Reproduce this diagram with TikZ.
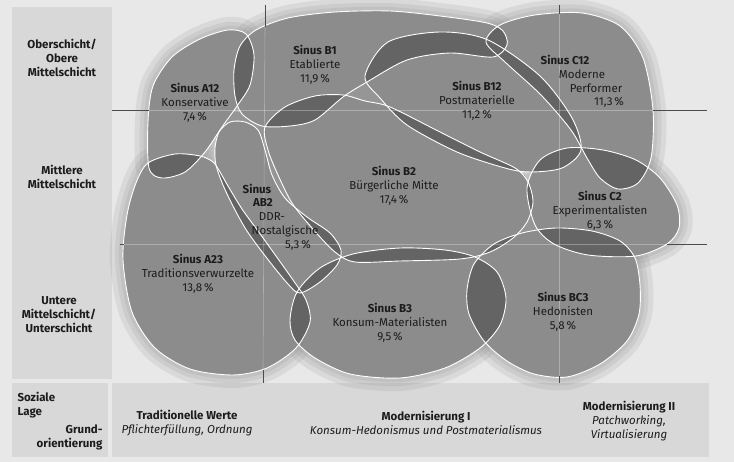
\documentclass[tikz,border=0pt]{standalone}
\usepackage{fontspec}
\setmainfont{Fira Sans}
\usetikzlibrary{positioning}

\definecolor{pagegrey}{RGB}{232,232,232}
\definecolor{panelgrey}{RGB}{216,216,216}
\definecolor{milieugrey}{RGB}{140,140,140}
\definecolor{overlapgrey}{RGB}{100,100,100}
\definecolor{gapgrey}{RGB}{150,150,150}
\definecolor{inkgrey}{RGB}{28,28,28}

% outlines of the milieus (pixel units, y downwards)
\newcommand{\konservative}{plot[smooth cycle] coordinates {(148,122) (153,86) (172,57) (200,39) (228,30) (246,34) (254,55) (250,85) (237,106) (222,127) (205,152) (185,172) (162,178) (149,168)}}
\newcommand{\etablierte}{plot[smooth cycle] coordinates {(234,70) (235,96) (242,114) (262,126) (290,126) (315,120) (343,97) (367,82) (407,60) (450,53) (493,57) (507,45) (503,31) (487,23) (440,16) (390,11) (335,12) (288,18) (256,30) (240,46)}}
\newcommand{\postmat}{plot[smooth cycle] coordinates {(365,76) (388,42) (440,32) (488,40) (540,76) (572,118) (581,150) (562,168) (530,172) (505,168) (457,152) (407,125) (380,98)}}
\newcommand{\performer}{plot[smooth cycle] coordinates {(486,42) (500,25) (535,15) (582,13) (620,26) (643,58) (653,110) (651,158) (638,183) (618,189) (600,178) (587,158) (571,130) (541,95) (505,62)}}
\newcommand{\buergmitte}{plot[smooth cycle] coordinates {(265,127) (285,107) (315,96) (343,95) (365,101) (390,107) (440,132) (480,152) (515,168) (528,182) (533,202) (527,222) (513,238) (490,252) (460,259) (400,261) (355,262) (335,252) (312,228) (292,203) (278,175) (268,150)}}
\newcommand{\experiment}{plot[smooth cycle] coordinates {(527,188) (540,160) (567,148) (603,150) (636,160) (660,178) (677,205) (679,228) (667,244) (636,256) (588,255) (554,244) (535,225)}}
\newcommand{\ddrnost}{plot[smooth cycle] coordinates {(230,122) (245,122) (258,130) (265,150) (272,175) (285,198) (307,217) (330,233) (341,250) (337,265) (320,282) (300,293) (288,284) (266,257) (247,231) (234,208) (223,185) (216,165) (215,148) (219,132)}}
\newcommand{\tradition}{plot[smooth cycle] coordinates {(148,163) (175,154) (200,156) (213,162) (220,172) (228,186) (242,209) (258,231) (276,256) (293,280) (306,300) (310,322) (296,348) (267,368) (233,375) (190,369) (155,348) (132,312) (123,260) (127,215) (136,183)}}
\newcommand{\konsummat}{plot[smooth cycle] coordinates {(290,320) (297,292) (320,268) (353,254) (400,248) (445,250) (475,257) (497,272) (506,298) (500,325) (480,348) (445,368) (400,378) (350,374) (315,358) (295,340)}}
\newcommand{\hedonisten}{plot[smooth cycle] coordinates {(467,290) (474,264) (494,244) (522,233) (556,228) (592,231) (620,241) (635,258) (640,285) (639,314) (627,341) (600,364) (567,377) (534,374) (507,361) (484,341) (469,314)}}

\tikzset{
  milieu/.style={fill=milieugrey},
  overlap/.style={fill=overlapgrey},
  rand/.style={draw=white, line width=0.9pt},
  halo/.style={draw=milieugrey, opacity=0.16, line cap=round, line join=round},
  raster/.style={draw=black!70, line width=0.6pt},
  rasterhell/.style={draw=white, opacity=0.3, line width=0.6pt},
  schrift/.style={font=\fontsize{11.5}{14}\selectfont, text=inkgrey, align=center},
  titel/.style={schrift, font=\fontsize{11.5}{14}\selectfont\bfseries},
}

\begin{document}
\begin{tikzpicture}[x=1pt, y=-1pt]
  \useasboundingbox (0,0) rectangle (734,462);
  \fill[pagegrey] (0,0) rectangle (734,462);

  % panels for the axes
  \fill[panelgrey] (12,7) rectangle (112,379);
  \fill[panelgrey] (12,383) rectangle (108,457);
  \fill[panelgrey] (112,383) rectangle (709,457);

  % soft grey edge round the milieus
  \foreach \m in {\konservative,\etablierte,\performer,\experiment,
                  \tradition,\konsummat,\hedonisten}
    \foreach \w in {26,16,8}
      \draw[halo, line width=\w pt] \m;

  % gaps between the milieus
  \fill[gapgrey] (228,112) -- (262,112) -- (343,92) -- (368,82) -- (392,108)
    -- (470,150) -- (525,175) -- (540,235) -- (480,262) -- (340,265)
    -- (300,292) -- (258,240) -- (218,160) -- (216,130) -- cycle;

  \foreach \m in {\konservative,\etablierte,\postmat,\performer,\buergmitte,
                  \experiment,\ddrnost,\tradition,\konsummat,\hedonisten}
    \fill[milieu] \m;

  %% overlaps are darker
  \foreach \p/\q in {\konservative/\etablierte, \konservative/\tradition,
      \konservative/\ddrnost, \etablierte/\postmat, \etablierte/\performer,
      \etablierte/\buergmitte, \etablierte/\ddrnost, \postmat/\performer,
      \postmat/\buergmitte, \postmat/\experiment, \performer/\experiment,
      \buergmitte/\experiment, \buergmitte/\ddrnost, \buergmitte/\konsummat,
      \buergmitte/\hedonisten, \ddrnost/\tradition, \ddrnost/\konsummat,
      \tradition/\konsummat, \konsummat/\hedonisten, \experiment/\hedonisten}
    {\begin{scope}
       \clip \p;
       \fill[overlap] \q;
     \end{scope}}

  \foreach \m in {\konservative,\etablierte,\postmat,\performer,\buergmitte,
                  \experiment,\ddrnost,\tradition,\konsummat,\hedonisten}
    \draw[rand] \m;

  % grid
  \coordinate (vl-top) at (265,5);
  \coordinate (vl-in) at (265,27);
  \coordinate (vl-out) at (263,370);
  \coordinate (vl-bot) at (263,383);
  \coordinate (vr-top) at (559,5);
  \coordinate (vr-in) at (559,14);
  \coordinate (vr-out) at (559,376);
  \coordinate (vr-bot) at (559,383);
  \coordinate (ho-l) at (112,110);
  \coordinate (ho-in) at (149,110);
  \coordinate (ho-out) at (653,110);
  \coordinate (ho-r) at (707,110);
  \coordinate (hu-l) at (120,244);
  \coordinate (hu-in) at (124,244);
  \coordinate (hu-out) at (667,244);
  \coordinate (hu-r) at (707,244);

  \draw[rasterhell] (vl-in) -- (vl-out);
  \draw[rasterhell] (vr-in) -- (vr-out);
  \draw[rasterhell] (ho-in) -- (ho-out);
  \draw[rasterhell] (hu-in) -- (hu-out);
  \draw[raster] (vl-top) -- (vl-in);
  \draw[raster] (vl-out) -- (vl-bot);
  \draw[raster] (vr-top) -- (vr-in);
  \draw[raster] (vr-out) -- (vr-bot);
  \draw[raster] (ho-l) -- (ho-in);
  \draw[raster] (ho-out) -- (ho-r);
  \draw[raster] (hu-l) -- (hu-in);
  \draw[raster] (hu-out) -- (hu-r);

  % social position
  \node[titel] (oberschicht) at (62,58) {Oberschicht/\\Obere\\Mittelschicht};
  \node[titel] (mittlere) at (62,177) {Mittlere\\Mittelschicht};
  \node[titel] (untere) at (59,315) {Untere\\Mittelschicht/\\Unterschicht};

  % basic orientation
  \node[titel, align=left, anchor=west] (soziale) at (14,405) {Soziale\\Lage};
  \node[titel, align=right, anchor=east] (grund) at (106,437) {Grund-\\orientierung};
  \node[schrift] (tradwerte) at (187,423) {{\bfseries Traditionelle Werte}\\\itshape Pflichterfüllung, Ordnung};
  \node[schrift] (modI) at (426,423) {{\bfseries Modernisierung I}\\\itshape Konsum-Hedonismus und Postmaterialismus};
  \node[schrift] (modII) at (629,421) {{\bfseries Modernisierung II}\\\itshape Patchworking,\\\itshape Virtualisierung};

  % milieus
  \node[schrift] (a12) at (195,103) {{\bfseries Sinus A12}\\Konservative\\7,4\,\%};
  \node[schrift] (b1) at (315,65) {{\bfseries Sinus B1}\\Etablierte\\11,9\,\%};
  \node[schrift] (b12) at (477,101) {{\bfseries Sinus B12}\\Postmaterielle\\11,2\,\%};
  \node[titel] (c12a) at (565,60) {Sinus C12};
  \node[schrift] (c12b) at ([xshift=17pt,yshift=-14pt]c12a.center) {Moderne};
  \node[schrift] (c12c) at ([xshift=14pt,yshift=-14pt]c12b.center) {Performer};
  \node[schrift] (c12d) at ([xshift=13pt,yshift=-14pt]c12c.center) {11,3\,\%};
  \node[schrift] (b2) at (394,186) {{\bfseries Sinus B2}\\Bürgerliche Mitte\\17,4\,\%};
  \node[titel] (ab2a) at (257,189) {Sinus};
  \node[titel] (ab2b) at ([xshift=6pt,yshift=-14pt]ab2a.center) {AB2};
  \node[schrift] (ab2c) at ([xshift=9pt,yshift=-14pt]ab2b.center) {DDR-};
  \node[schrift] (ab2d) at ([xshift=13pt,yshift=-14pt]ab2c.center) {Nostalgische};
  \node[schrift] (ab2e) at ([xshift=13pt,yshift=-14pt]ab2d.center) {5,3\,\%};
  \node[schrift] (c2) at (600,211) {{\bfseries Sinus C2}\\Experimentalisten\\6,3\,\%};
  \node[schrift] (a23) at (198,274) {{\bfseries Sinus A23}\\Traditionsverwurzelte\\13,8\,\%};
  \node[schrift] (b3) at (390,323) {{\bfseries Sinus B3}\\Konsum-Materialisten\\9,5\,\%};
  \node[schrift] (bc3) at (563,312) {{\bfseries Sinus BC3}\\Hedonisten\\5,8\,\%};
\end{tikzpicture}
\end{document}
